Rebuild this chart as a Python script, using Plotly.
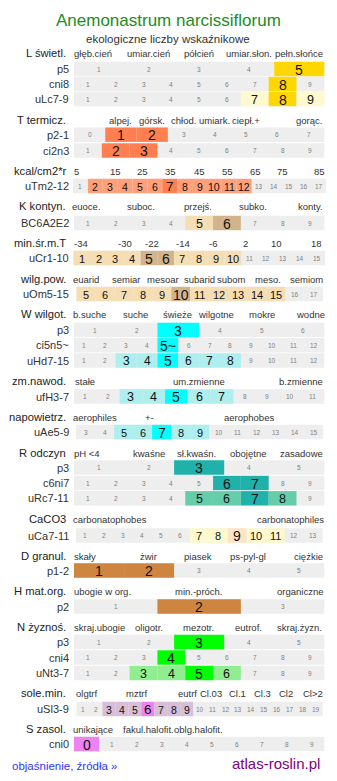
import plotly.graph_objects as go

# ---------------- data ----------------
title = "Anemonastrum narcissiflorum"
subtitle = "ekologiczne liczby wskaźnikowe"

sec_titles = ["L świetl.", "T termicz.", "kcal/cm2*r", "K kontyn.", "min.śr.m.T", "wilg.pow.",
              "W wilgot.", "zm.nawod.", "napowietrz.", "R odczyn", "CaCO3", "D granul.",
              "H mat.org.", "N żyznoś.", "sole.min.", "S zasol."]

L_cats = ["głęb.cień", "umiar.cień", "półcień", "umiar.słon.", "pełn.słońce"]
T_cats = ["alpej.", "górsk.", "chłod.", "umiark.", "ciepł.+", "gorąc."]
kcal_cats = ["5", "15", "25", "35", "45", "55", "65", "75", "85"]
K_cats = ["euoce.", "suboc.", "przejś.", "subko.", "konty."]
Cr_cats = ["-34", "-30", "-22", "-14", "-6", "2", "10", "18"]
Om_cats = ["euarid", "semiar", "mesoar", "subarid", "subom", "meso.", "semiom"]
W_cats = ["b.suche", "suche", "świeże", "wilgotne", "mokre", "wodne"]
fH_cats = ["stałe", "um.zmienne", "b.zmienne"]
Ae_cats = ["aerophiles", "+-", "aerophobes"]
R_cats = ["pH <4", "kwaśne", "sł.kwaśn.", "obojętne", "zasadowe"]
Ca_cats = ["carbonatophobes", "carbonatophiles"]
D_cats = ["skały", "żwir", "piasek", "ps-pyl-gl", "ciężkie"]
H_cats = ["ubogie w org.", "min.-próch.", "organiczne"]
N_cats = ["skraj.ubogie", "oligotr.", "mezotr.", "eutrof.", "skraj.żyzn."]
Sl_cats = ["olgtrf", "mztrf", "eutrf", "Cl.03", "Cl.1", "Cl.3", "Cl2", "Cl>2"]
S_cats = ["unikające", "fakul.halofit.", "oblg.halofit."]

c5 = ["1", "2", "3", "4", "5"]
c9 = ["1", "2", "3", "4", "5", "6", "7", "8", "9"]
c0_7 = ["0", "1", "2", "3", "4", "5", "6", "7"]
c17 = ["1", "2", "3", "4", "5", "6", "7", "8", "9", "10", "11", "12", "13", "14", "15", "16", "17"]
c15 = ["1", "2", "3", "4", "5", "6", "7", "8", "9", "10", "11", "12", "13", "14", "15"]
c5_17 = ["5", "6", "7", "8", "9", "10", "11", "12", "13", "14", "15", "16", "17"]
c6 = ["1", "2", "3", "4", "5", "6"]
c12 = ["1", "2", "3", "4", "5", "6", "7", "8", "9", "10", "11", "12"]
c12t = ["1", "2", "3", "4", "5~", "6", "7", "8", "9", "10", "11", "12"]
c11 = ["1", "2", "3", "4", "5", "6", "7", "8", "9", "10", "11"]
c3_15 = ["3", "4", "5", "6", "7", "8", "9", "10", "11", "12", "13", "14", "15"]
c13 = ["1", "2", "3", "4", "5", "6", "7", "8", "9", "10", "11", "12", "13"]
c3 = ["1", "2", "3"]
c19 = ["1", "2", "3", "4", "5", "6", "7", "8", "9", "10", "11", "12", "13", "14", "15", "16", "17", "18", "19"]
c0_9 = ["0", "1", "2", "3", "4", "5", "6", "7", "8", "9"]

# rows: (name, cells, strong values, light values)
L_rows = [("p5", c5, ["5"], []), ("cni8", c9, ["8"], []), ("uLc7-9", c9, ["8"], ["7", "9"])]
T_rows = [("p2-1", c0_7, ["1", "2"], []), ("ci2n3", c9, ["2", "3"], [])]
kcal_rows = [("uTm2-12", c17, ["7"], ["2", "3", "4", "5", "6", "8", "9", "10", "11", "12"])]
K_rows = [("BC6A2E2", c9, ["6"], ["5"])]
Cr_rows = [("uCr1-10", c15, ["5", "6"], ["1", "2", "3", "4", "7", "8", "9", "10"])]
Om_rows = [("uOm5-15", c5_17, ["10"], ["5", "6", "7", "8", "9", "11", "12", "13", "14", "15"])]
W_rows = [("p3", c6, ["3"], []), ("ci5n5~", c12t, ["5~"], []),
          ("uHd7-15", c12, ["5"], ["3", "4", "6", "7", "8"])]
fH_rows = [("ufH3-7", c11, ["5"], ["3", "4", "6", "7"])]
Ae_rows = [("uAe5-9", c3_15, ["7"], ["5", "6", "8", "9"])]
R_rows = [("p3", c5, ["3"], []), ("c6ni7", c9, ["6", "7"], []), ("uRc7-11", c9, ["7"], ["5", "6", "8"])]
Ca_rows = [("uCa7-11", c13, ["9"], ["7", "8", "10", "11"])]
D_rows = [("p1-2", c5, ["1", "2"], [])]
H_rows = [("p2", c3, ["2"], [])]
N_rows = [("p3", c5, ["3"], []), ("cni4", c9, ["4"], []), ("uNt3-7", c9, ["5"], ["3", "4", "6"])]
Sl_rows = [("uSl3-9", c19, ["6"], ["3", "4", "5", "7", "8", "9"])]
S_rows = [("cni0", c0_9, ["0"], [])]

sec_cats = [L_cats, T_cats, kcal_cats, K_cats, Cr_cats, Om_cats, W_cats, fH_cats, Ae_cats,
            R_cats, Ca_cats, D_cats, H_cats, N_cats, Sl_cats, S_cats]
sec_rows = [L_rows, T_rows, kcal_rows, K_rows, Cr_rows, Om_rows, W_rows, fH_rows, Ae_rows,
            R_rows, Ca_rows, D_rows, H_rows, N_rows, Sl_rows, S_rows]

# ---------------- layout / style ----------------
W, H = 337, 781
FONT = "Liberation Sans, Arial, sans-serif"
GRAY = "#eeeeee"
sec_colors = [("#ffd700", "#fffacd"), ("#ff7f50", "#ffa07a"), ("#ff7f50", "#ffa07a"),
              ("#d2b48c", "#f5deb3"), ("#d2b48c", "#f5deb3"), ("#d2b48c", "#f5deb3"),
              ("#00ffff", "#afeeee"), ("#00ffff", "#afeeee"), ("#00ffff", "#afeeee"),
              ("#20b2aa", "#66cdaa"), ("#ffe4c4", "#fffacd"), ("#cd853f", "#cd853f"),
              ("#cd853f", "#cd853f"), ("#00ff00", "#90ee90"), ("#ee82ee", "#d8bfd8"),
              ("#ee82ee", "#d8bfd8")]
header_y = [53, 120, 171, 206, 242.7, 279.3, 314.3, 380.7, 416.7, 453.3, 519, 555.7,
            590.7, 626.7, 692.7, 729.3]
row_y = [[69, 84, 99], [134.7, 150.5], [186], [223], [258], [294], [330, 345.3, 360.5],
         [396.5], [432], [467.5, 483, 498.3], [535.5], [570.5], [606.5], [642, 657.5, 673],
         [709], [744]]
cat_x = [[92.5, 148.7, 198.7, 249, 299],
         [120.5, 151.7, 183, 214.3, 245.5, 308.8],
         [76, 115, 142.7, 170.7, 199, 227, 255, 282.7, 319],
         [86.7, 140.8, 198.3, 252.7, 310.2],
         [81, 125, 152.3, 182.7, 213.3, 245.7, 276, 316.7],
         [85.5, 126.7, 162.8, 199.2, 231.3, 268, 306.8],
         [89.3, 135.5, 177.5, 215.8, 261.7, 310],
         [85, 199.2, 301.3],
         [94.8, 149.2, 248.7],
         [86.5, 148.8, 196.7, 248, 301.7],
         [110.3, 290.2],
         [84.8, 148, 198, 248.3, 308],
         [102.5, 198.7, 300.2],
         [99, 149.2, 198.5, 248.3, 299.7],
         [86.7, 136.3, 187.8, 211.3, 237.2, 262.5, 286, 313.3],
         [93.3, 148.3, 198.3]]
row_ext = {2: (73, 326), 4: (73.5, 325), 5: (76.5, 323), 8: (76, 323.3), 10: (76, 322.7),
           14: (76.5, 322.7)}
DEFAULT_EXT = (74, 324.3)
ROW_H = 14.4

shapes = []
ann = []


def add_text(x, y, text, size, color, xanchor="center"):
    ann.append(dict(x=x, y=y, xref="x", yref="y", text=text, showarrow=False,
                    xanchor=xanchor, yanchor="middle",
                    font=dict(family=FONT, size=size, color=color)))


add_text(168.3, 20, title, 17, "#228b22")
add_text(167.8, 38.5, subtitle, 11.5, "#333333")

for si, title_s in enumerate(sec_titles):
    add_text(67.8, header_y[si], title_s, 11.2, "#222222", xanchor="right")
    for ci, cat in enumerate(sec_cats[si]):
        add_text(cat_x[si][ci], header_y[si] + 0.5, cat, 9.5, "#333333")
    strong_c, light_c = sec_colors[si]
    x0, x1 = row_ext.get(si, DEFAULT_EXT)
    for ri, (rname, cells, strong, light) in enumerate(sec_rows[si]):
        yc = row_y[si][ri]
        add_text(70.8, yc, rname, 11, "#333333", xanchor="right")
        n = len(cells)
        w = (x1 - x0) / n
        shapes.append(dict(type="rect", xref="x", yref="y", x0=x0, x1=x1,
                           y0=yc - ROW_H / 2, y1=yc + ROW_H / 2,
                           fillcolor=GRAY, line=dict(width=0), layer="below"))
        if n >= 17:
            light_size, strong_size = 10.5, 13.5
        elif n >= 13:
            light_size, strong_size = 11, 14
        elif n >= 12:
            light_size, strong_size = 12, 14
        else:
            light_size, strong_size = 12.5, 14
        for k, lab in enumerate(cells):
            cx0 = x0 + k * w
            cx1 = cx0 + w
            if lab in strong or lab in light:
                col = strong_c if lab in strong else light_c
                shapes.append(dict(type="rect", xref="x", yref="y", x0=cx0, x1=cx1,
                                   y0=yc - ROW_H / 2, y1=yc + ROW_H / 2,
                                   fillcolor=col, line=dict(width=0), layer="below"))
                size = strong_size if lab in strong else light_size
                add_text((cx0 + cx1) / 2, yc + 0.5, lab, size, "#111111")
            else:
                add_text((cx0 + cx1) / 2, yc, lab, 6.5, "#808080")

ann.append(dict(x=10, y=766, xref="x", yref="y", text="objaśnienie, źródła »",
                showarrow=False, xanchor="left", yanchor="middle",
                font=dict(family=FONT, size=11.5, color="#3333ff")))
ann.append(dict(x=322, y=763.5, xref="x", yref="y", text="atlas-roslin.pl",
                showarrow=False, xanchor="right", yanchor="middle",
                font=dict(family=FONT, size=15, color="#800080")))

fig = go.Figure()
fig.add_trace(go.Scatter(x=[0, W], y=[0, H], mode="markers",
                         marker=dict(opacity=0), hoverinfo="skip", showlegend=False))
fig.update_layout(width=W, height=H, margin=dict(l=0, r=0, t=0, b=0),
                  paper_bgcolor="white", plot_bgcolor="white",
                  shapes=shapes, annotations=ann, showlegend=False,
                  xaxis=dict(range=[0, W], visible=False, fixedrange=True),
                  yaxis=dict(range=[H, 0], visible=False, fixedrange=True))
fig.write_html("out.html")
